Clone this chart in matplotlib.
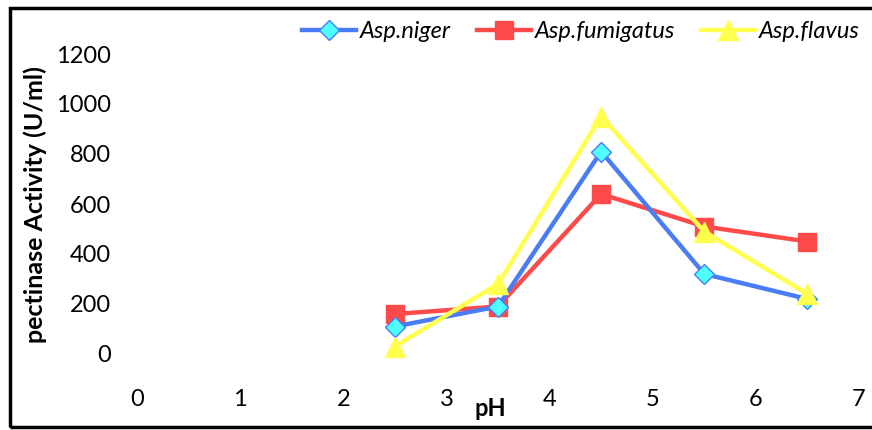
import matplotlib
matplotlib.use("Agg")
import matplotlib.pyplot as plt
from matplotlib.patches import Rectangle

# data
ph = [2.5, 3.5, 4.5, 5.5, 6.5]
niger = [110, 190, 810, 320, 220]
fumigatus = [160, 190, 640, 510, 450]
flavus = [30, 280, 950, 490, 240]

x_ticks = [0, 1, 2, 3, 4, 5, 6, 7]
y_ticks = [0, 200, 400, 600, 800, 1000, 1200]

plt.rcParams["font.family"] = ["Lato", "DejaVu Sans"]

W, H = 872, 430
fig = plt.figure(figsize=(W / 100, H / 100), dpi=100)

# axes placed so that x 0..7 -> px 137..859, y 0..1200 -> px 354..54
ymin, ymax = -150, 1300
px_per_unit = 300 / 1200
bottom_px = 354 + (0 - ymin) * px_per_unit
top_px = 54 - (ymax - 1200) * px_per_unit
ax = fig.add_axes([137 / W, 1 - bottom_px / H, (859 - 137) / W, (bottom_px - top_px) / H])

ax.plot(ph, niger, color="#4A7DF5", linewidth=3.2, marker="D", markersize=10,
        markerfacecolor="#4DFFFF", markeredgecolor="#4A7DF5", markeredgewidth=1,
        label="Asp.niger", zorder=3)
ax.plot(ph, fumigatus, color="#FF4A4A", linewidth=3.2, marker="s", markersize=13,
        markerfacecolor="#FF4A4A", markeredgecolor="#FF4A4A",
        label="Asp.fumigatus", zorder=2)
ax.plot(ph, flavus, color="#FFFF4D", linewidth=3.2, marker="^", markersize=14,
        markerfacecolor="#FFFF4D", markeredgecolor="#FFFF4D",
        label="Asp.flavus", zorder=4)

ax.set_xlim(0, 7)
ax.set_ylim(ymin, ymax)
ax.set_xticks(x_ticks)
ax.set_yticks(y_ticks)
ax.tick_params(axis="both", length=0, labelsize=17)
ax.tick_params(axis="y", pad=19)
ax.tick_params(axis="x", pad=-2)
for s in ax.spines.values():
    s.set_visible(False)

fig.text(490 / W, 1 - 409 / H, "pH", ha="center", va="center",
         fontsize=17, fontweight="bold")
fig.text(35 / W, 1 - 205 / H, "pectinase Activity (U/ml)", ha="center", va="center",
         rotation=90, fontsize=18, fontweight="bold")

leg = fig.legend(loc="upper right", bbox_to_anchor=(874 / W, 1 - 7 / H), ncol=3,
                 frameon=False, fontsize=17, handlelength=2.3, handletextpad=0.15,
                 columnspacing=1.1, borderaxespad=0.2)
for t in leg.get_texts():
    t.set_fontstyle("italic")

# outer black frame
fig.patches.append(Rectangle((10 / W, 3 / H), 1.0, 1 - 11 / H, transform=fig.transFigure,
                             fill=False, edgecolor="black", linewidth=2.5))

fig.savefig("out.png", dpi=100)
